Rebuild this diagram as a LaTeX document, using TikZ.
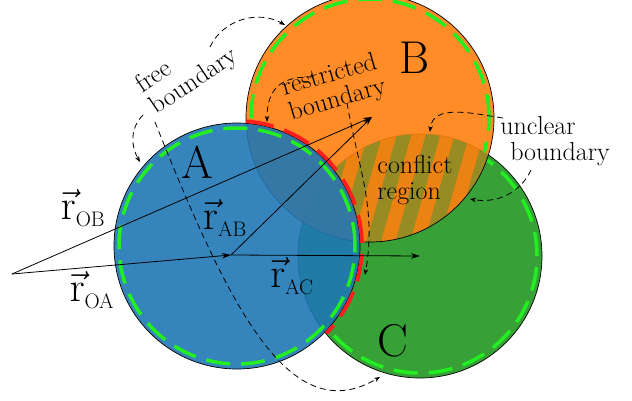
\RequirePackage{fix-cm}
\documentclass[tikz,border=0pt]{standalone}
\usetikzlibrary{arrows.meta}

\definecolor{azulA}{RGB}{31,119,180}
\definecolor{naranjaB}{RGB}{255,127,14}
\definecolor{verdeC}{RGB}{55,160,55}
\definecolor{libre}{RGB}{34,238,34}
\definecolor{rojo}{RGB}{255,30,30}
\definecolor{oliva}{RGB}{150,140,35}

\begin{document}
\begin{tikzpicture}[x=1pt,y=1pt,
		agente/.style={draw=black, line width=0.7pt},
		borde/.style={libre, line width=3.5pt, dash pattern=on 24pt off 11pt},
		restr/.style={rojo, line width=3.8pt, dash pattern=on 28pt off 11pt},
		vecarrow/.style={-{Stealth[length=9pt,width=5.5pt]}, line width=0.8pt},
		conn/.style={-{Stealth[length=6pt,width=4.5pt]}, dash pattern=on 6pt off 4pt, line width=0.8pt},
		etiq/.style={font=\fontsize{26}{26}\selectfont, align=left, inner sep=0pt},
		letra/.style={font=\fontsize{46}{46}\selectfont, inner sep=0pt},
		vlab/.style={font=\fontsize{42}{42}\selectfont, inner sep=0pt}]

		\useasboundingbox (0,0) rectangle (632,400);
		\clip (0,0) rectangle (632,400);

		\coordinate (cA) at (237,154); %Centro A
		\coordinate (cB) at (370,282); %Centro B
		\coordinate (cC) at (420,144); %Centro C

		% agente C
		\draw[agente, fill=verdeC] (cC) circle (122pt);
		\begin{scope}
			\clip (0,0) -- (0,400) -- (632,400) -- (632,0) -- cycle (cA) ++(0:123pt) arc[start angle=0, end angle=360, radius=123pt];
			\clip (0,0) -- (0,400) -- (632,400) -- (632,0) -- cycle (cB) ++(0:124pt) arc[start angle=0, end angle=360, radius=124pt];
			\draw[borde] (cC) circle (117pt);
		\end{scope}

		% agente B
		\fill[naranjaB, fill opacity=0.9] (cB) circle (124pt);
		\begin{scope}
			\clip (cB) circle (124pt);
			\clip (cC) circle (122pt);
			\clip (0,0) -- (0,400) -- (632,400) -- (632,0) -- cycle (cA) ++(0:123pt) arc[start angle=0, end angle=360, radius=123pt];
			\foreach \k in {-2,...,6}
				\draw[oliva, line width=14pt] (328+29*\k,100) -- ++(57,200);
		\end{scope}
		\draw[agente] (cB) circle (124pt);
		\begin{scope}
			\clip (0,0) -- (0,400) -- (632,400) -- (632,0) -- cycle (cA) ++(0:123pt) arc[start angle=0, end angle=360, radius=123pt];
			\clip (0,0) -- (0,400) -- (632,400) -- (632,0) -- cycle (cC) ++(0:122pt) arc[start angle=0, end angle=360, radius=122pt];
			\draw[borde] (cB) circle (119pt);
		\end{scope}

		% agente A
		\draw[agente, fill=azulA, fill opacity=0.9] (cA) circle (123pt);
		\draw[borde] (cA) circle (118pt);
		\draw[restr] (cA) ++(85.8:125pt) arc[start angle=85.8, end angle=-44.5, radius=125pt];

		\node[letra] (labA) at (197,238) {A};
		\node[letra] (labB) at (415,342) {B};
		\node[letra] (labC) at (393,59) {C};

		% vectores
		\coordinate (O) at (12,126);
		\coordinate (a) at (231,145);
		\coordinate (b) at (372,283);
		\coordinate (c) at (420,144);
		\draw[vecarrow] (O) -- (a);
		\draw[vecarrow] (O) -- (b);
		\draw[vecarrow] (a) -- (b);
		\draw[vecarrow] (a) -- (c);

		\node[vlab] (rOB) at (83,192) {$\vec{\mathrm{r}}_{\scriptscriptstyle\mathrm{OB}}$};
		\node[vlab] (rOA) at (92,110) {$\vec{\mathrm{r}}_{\scriptscriptstyle\mathrm{OA}}$};
		\node[vlab] (rAB) at (225,182) {$\vec{\mathrm{r}}_{\scriptscriptstyle\mathrm{AB}}$};
		\node[vlab] (rAC) at (292,124) {$\vec{\mathrm{r}}_{\scriptscriptstyle\mathrm{AC}}$};

		% etiquetas
		\node[etiq, rotate=34] (libreLab) at (187,329) {free\\boundary};
		\node[etiq, rotate=16] (restrLab) at (334,312) {restricted\\boundary};
		\node[etiq] (unclLab) at (555,259) {unclear\\\hspace*{10pt}boundary};
		\node[etiq] (conflLab) at (415,220) {conflict\\region};

		% flechas punteadas
		\coordinate (fbB) at (210,353);
		\coordinate (tB) at (285,375);
		\coordinate (fbA) at (143,285);
		\coordinate (tA) at (140,238);
		\coordinate (fbC) at (155,278);
		\coordinate (tC) at (380,23);
		\coordinate (rbA) at (313,323);
		\coordinate (tRA) at (267,278);
		\coordinate (rbC) at (347,297);
		\coordinate (tRC) at (365,125);
		\coordinate (ubB) at (503,282);
		\coordinate (tUB) at (430,268);
		\coordinate (ubC) at (531,230);
		\coordinate (tUC) at (470,201);

		\draw[conn] (fbB) to[out=65,in=150] (tB);
		\draw[conn] (fbA) to[out=225,in=120] (tA);
		\draw[conn] (fbC) .. controls (230,90) and (290,-30) .. (tC);
		\draw[conn] (rbA) to[out=178,in=90,looseness=1.3] (tRA);
		\draw[conn] (rbC) to[out=-80,in=80] (tRC);
		\draw[conn] (ubB) to[out=172,in=85] (tUB);
		\draw[conn] (ubC) to[out=-115,in=-10] (tUC);

	\end{tikzpicture}
\end{document}
